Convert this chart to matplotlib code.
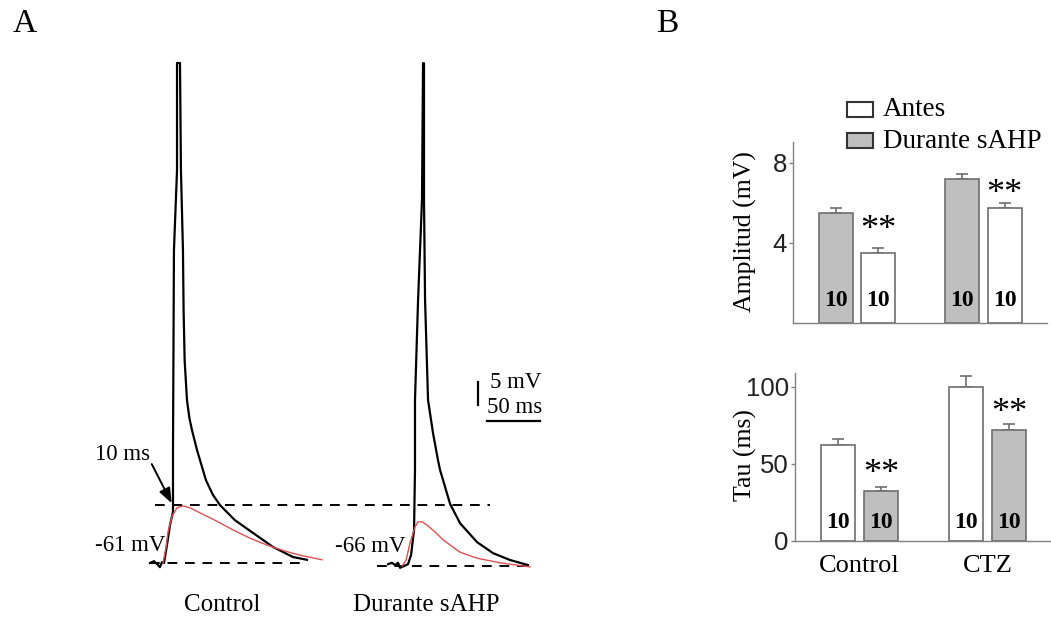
import matplotlib
import matplotlib.pyplot as plt
from matplotlib.patches import Rectangle

plt.rcParams["font.family"] = "Liberation Serif"

# --- panel A traces: time (ms) relative to spike onset, mV relative to rest ---
ctrl_t = [-21.7, -17.9, -15.1, -12.3, -10.4, -8.5, -5.7, -2.8, 0.0, 0.0, 0.9, 3.8, 3.8,
          6.6, 7.5, 9.4, 10.0, 11.0, 13.2, 15.5, 17.9, 22.6, 31.1, 37.7, 44.3, 58.5,
          74.5, 94.3, 113.2, 126.4]
ctrl_v = [0.0, 0.4, -0.2, -0.9, 0.2, 0.0, 3.9, 8.3, 11.1, 24.6, 68.0, 85.4, 108.7,
          108.7, 85.4, 68.0, 55.0, 44.0, 35.4, 31.5, 28.9, 24.6, 18.0, 14.8, 12.6, 9.3,
          6.7, 3.5, 1.3, 0.7]
ctrl_fit_t = [-9.4, -6.6, -4.7, -0.9, 3.8, 9.4, 16.0, 25.5, 39.6, 56.6, 72.6, 88.7,
              105.7, 119.8, 140.6]
ctrl_fit_v = [0.0, 3.3, 6.7, 10.2, 12.0, 12.4, 12.0, 10.9, 9.3, 7.2, 5.4, 3.9, 2.6,
              1.7, 0.7]

sahp_t = [-24.5, -20.8, -17.9, -15.1, -13.2, -9.4, -5.7, -2.8, -0.9, 0.0, 0.9, 0.9,
          3.8, 7.5, 8.5, 9.4, 9.4, 10.4, 13.2, 17.9, 22.6, 24.5, 34.0, 43.4, 59.4,
          74.5, 90.6, 107.5]
sahp_v = [0.4, 0.7, 0.2, 0.7, -0.4, 0.0, 0.4, 2.4, 6.1, 7.8, 20.9, 36.1, 57.8, 79.6,
          109.3, 109.3, 79.6, 57.8, 36.1, 28.9, 23.0, 20.9, 13.5, 9.3, 5.2, 2.8, 1.3,
          0.2]
sahp_fit_t = [-11.3, -7.5, -3.8, 0.9, 3.8, 7.5, 12.3, 19.8, 27.4, 43.4, 59.4, 81.1,
              109.4]
sahp_fit_v = [0.0, 1.3, 5.0, 8.5, 9.6, 9.6, 8.9, 7.4, 5.7, 3.0, 1.7, 0.7, -0.2]

trace_names = ["Control", "Durante sAHP"]
rest_labels = ["-61 mV", "-66 mV"]

# --- panel B bars ---
groups = ["Control", "CTZ"]
n_cells = [10, 10]
amp_durante = [5.5, 7.2]
amp_durante_err = [0.25, 0.25]
amp_antes = [3.5, 5.75]
amp_antes_err = [0.25, 0.25]
tau_antes = [62, 100]
tau_antes_err = [4, 7]
tau_durante = [32.5, 72]
tau_durante_err = [2.5, 4]

GRAY = "#bfbfbf"
EDGE = "#6e6e6e"
SPINE = "#808080"
SANS = "Liberation Sans"


def main():
    fig = plt.figure(figsize=(10.51, 6.19), dpi=100)

    # panel A: one axes over the whole figure, units ms / mV
    ax = fig.add_axes([0, 0, 1, 1])
    ax.set_xlim(-163.2, 828.3)
    ax.set_ylim(-12.17, 122.4)
    ax.axis("off")

    shift_t = 227.4   # second trace placed to the right
    shift_v = -0.65

    ax.plot(ctrl_t, ctrl_v, color="black", lw=1.6, zorder=3)
    ax.plot(ctrl_fit_t, ctrl_fit_v, color="#e0504f", lw=1.0, zorder=4)
    ax.plot([t + shift_t for t in sahp_t], [v + shift_v for v in sahp_v],
            color="black", lw=1.6, zorder=3)
    ax.plot([t + shift_t for t in sahp_fit_t], [v + shift_v for v in sahp_fit_v],
            color="#e0504f", lw=1.0, zorder=4)

    dash = dict(color="black", lw=1.4, linestyle=(0, (5, 4)))
    ax.plot([-17, 299], [12.6, 12.6], **dash)
    ax.plot([-21.7, 124.5], [0, 0], **dash)
    ax.plot([192.5, 334], [shift_v, shift_v], **dash)

    ax.annotate("", xy=(-1.2, 13.0), xytext=(-20, 21.5),
                arrowprops=dict(arrowstyle="-|>,head_length=0.9,head_width=0.35",
                                color="black", lw=1.4, shrinkA=0, shrinkB=0))
    ax.text(-48, 23.5, "10 ms", fontsize=16.5, ha="center", va="center")
    ax.text(-40.6, 3.9, rest_labels[0], fontsize=16.5, ha="center", va="center")
    ax.text(185.8, 3.7, rest_labels[1], fontsize=16.5, ha="center", va="center")
    ax.text(46.2, -9.1, trace_names[0], fontsize=18, ha="center", va="center")
    ax.text(238.7, -9.1, trace_names[1], fontsize=18, ha="center", va="center")

    # scale bars
    ax.plot([287.7, 287.7], [34.3, 39.3], color="black", lw=1.6)
    ax.plot([296.2, 346.2], [30.9, 30.9], color="black", lw=1.6)
    ax.text(299, 39.3, "5 mV", fontsize=16.5, ha="left", va="center")
    ax.text(296.2, 33.9, "50 ms", fontsize=16.5, ha="left", va="center")

    fig.text(25 / 1051, 1 - 24 / 619, "A", fontsize=24, ha="center", va="center")
    fig.text(667 / 1051, 1 - 24 / 619, "B", fontsize=24, ha="center", va="center")

    # panel B
    def bar_panel(rect, first, first_err, first_col, second, second_err,
                  second_col, ylim, ticks, xlim, n_y, star_y, show_x):
        bx = fig.add_axes(rect)
        off, w = 0.167, 0.268
        x = range(len(groups))
        for vals, errs, col, sgn in [(first, first_err, first_col, -1),
                                     (second, second_err, second_col, 1)]:
            xs = [i + sgn * off for i in x]
            bx.bar(xs, vals, width=w, color=col, edgecolor=EDGE, lw=1.2, zorder=2)
            bx.errorbar(xs, vals, yerr=[[0] * len(vals), errs], fmt="none",
                        ecolor=EDGE, elinewidth=1.2, capsize=4, capthick=1.2,
                        zorder=1)
            for xi, n in zip(xs, n_cells):
                bx.text(xi, n_y, str(n), fontsize=17, fontweight="bold",
                        ha="center", va="center", zorder=3)
        for i, sy in zip(x, star_y):
            bx.text(i + off, sy, "**", fontsize=26, ha="center", va="center")
        bx.set_xlim(*xlim)
        bx.set_ylim(*ylim)
        bx.set_yticks(ticks)
        bx.set_yticklabels([str(t) for t in ticks], fontfamily=SANS, fontsize=18.5)
        for s in ["top", "right"]:
            bx.spines[s].set_visible(False)
        for s in ["left", "bottom"]:
            bx.spines[s].set_color(SPINE)
            bx.spines[s].set_linewidth(1.0)
        bx.tick_params(axis="y", length=3, width=1, color=SPINE, pad=1.5,
                       labelcolor="#222222")
        bx.set_xticks(list(x))
        if show_x:
            bx.set_xticklabels(groups, fontsize=19)
            bx.tick_params(axis="x", length=0, pad=10)
        else:
            bx.tick_params(axis="x", length=0, labelbottom=False)
        return bx

    bar_panel([793 / 1051, 1 - 323 / 619, 254 / 1051, 181 / 619],
              amp_durante, amp_durante_err, GRAY, amp_antes, amp_antes_err, "white",
              (0, 9.05), [4, 8], (-0.506, 1.502), 1.15, [4.6, 6.4], False)
    bar_panel([795 / 1051, 1 - 541 / 619, 255 / 1051, 168 / 619],
              tau_antes, tau_antes_err, "white", tau_durante, tau_durante_err, GRAY,
              (0, 109), [0, 50, 100], (-0.504, 1.488), 11.7, [43, 83], True)

    fig.text(745 / 1051, 1 - 232 / 619, "Amplitud (mV)", fontsize=18.5,
             rotation=90, ha="center", va="center")
    fig.text(745 / 1051, 1 - 455 / 619, "Tau (ms)", fontsize=18.5,
             rotation=90, ha="center", va="center")

    # legend drawn by hand
    for y_px, col, label in [(102, "white", "Antes"), (133, GRAY, "Durante sAHP")]:
        fig.add_artist(Rectangle((847 / 1051, 1 - (y_px + 15) / 619), 26 / 1051,
                                 15 / 619, facecolor=col, edgecolor="#333333",
                                 lw=1.5, transform=fig.transFigure))
        fig.text(883 / 1051, 1 - (y_px + 8) / 619, label, fontsize=19.5,
                 ha="left", va="center")

    fig.savefig("out.png", dpi=100)


if __name__ == "__main__":
    main()
